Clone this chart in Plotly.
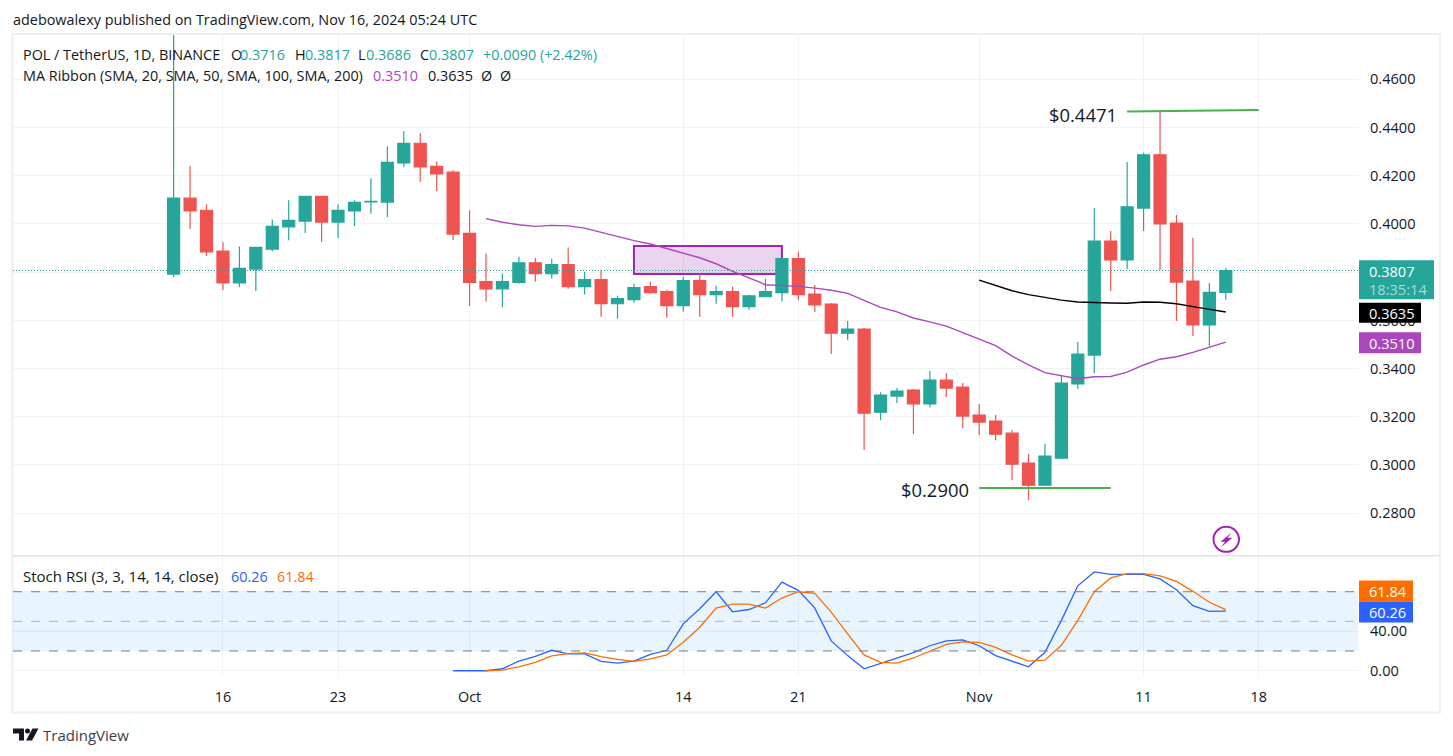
import pandas as pd
import plotly.graph_objects as go

WIDTH, HEIGHT = 1453, 756
# Rows of the page that the paper area spans
PAPER_ROWS = 753.5
FONT = "Open Sans"
TEXT_SIZE = 14.4
INK = "#131722"
GREEN = "#26a69a"
RED = "#ef5350"
PURPLE = "#ab47bc"
MARKUP = "#9c27b0"
LEVEL = "#4caf50"
GRID = "rgba(42,46,57,0.06)"
FRAME = "#eeeef5"

# Daily POL/USDT candles, 13 Sep to 16 Nov 2024
open_ = [
    .3792, .4107, .4057, .3887, .3755, .3813, .3896, .3988, .4012, .4115, .4008, .4054, .4092, .4091, .4253, .4335, .4239, .4215,
    .3961, .3761, .3731, .3758, .3839, .3794, .3831, .3740, .3769, .3669, .3686, .3740, .3719, .3661, .3765, .3707, .3719, .3657, .3698, .3715, .3856, .3709, .3668, .3547, .3564, .3219, .3286, .3311, .3253, .3352, .3323,
    .3207, .3182, .3132, .3008, .2916, .3028, .3336, .3456, .3929, .3851, .4066, .4287, .4004, .3763, .3581, .3716,
]
high = [
    .4900, .4239, .4082, .3924, .3907, .3905, .4019, .4098, .4116, .4116, .4082, .4098, .4190, .4322, .4385, .4376, .4260, .4223,
    .4057, .3877, .3794, .3864, .3860, .3856, .3902, .3802, .3810, .3702, .3752, .3761, .3727, .3781, .3794, .3744, .3740, .3706, .3773, .3857, .3885, .3747, .3672, .3597, .3568, .3302, .3319, .3315, .3390, .3381, .3340,
    .3253, .3207, .3145, .3045, .3087, .3369, .3510, .4066, .3971, .4257, .4295, .4471, .4037, .3942, .3755, .3817,
]
low = [
    .3780, .3979, .3867, .3726, .3738, .3722, .3887, .3932, .3963, .3925, .3942, .3992, .4042, .4029, .4235, .4174, .4137, .3934,
    .3660, .3678, .3654, .3752, .3761, .3773, .3731, .3707, .3615, .3607, .3673, .3711, .3611, .3636, .3615, .3669, .3615, .3644, .3698, .3678, .3684, .3635, .3460, .3518, .3062, .3186, .3257, .3128, .3240, .3282, .3153,
    .3124, .3103, .2937, .2854, .2916, .3028, .3315, .3381, .3722, .3813, .3971, .3809, .3597, .3535, .3493, .3686,
]
close = [
    .4107, .4054, .3884, .3755, .3816, .3903, .3990, .4015, .4115, .4008, .4057, .4090, .4094, .4256, .4335, .4237, .4208, .3958,
    .3758, .3731, .3761, .3839, .3794, .3831, .3740, .3769, .3669, .3690, .3736, .3715, .3661, .3765, .3707, .3719, .3657, .3702, .3719, .3856, .3707, .3664, .3547, .3564, .3215, .3290, .3307, .3253, .3352, .3319, .3203,
    .3178, .3128, .3003, .2916, .3037, .3340, .3460, .3929, .3851, .4071, .4287, .4000, .3759, .3581, .3716, .3807,
]

# Ribbon averages, newest value last
sma20 = [
    .4022, .4007, .3997, .3990, .3994, .3992, .3983, .3965, .3949, .3931, .3917, .3898, .3880, .3860, .3835, .3803, .3776, .3748, .3744, .3741,
    .3734, .3725, .3712, .3682, .3654, .3635, .3610, .3594, .3576, .3549,
    .3522, .3495, .3452, .3415, .3383, .3370, .3358, .3366, .3367, .3385, .3415, .3439, .3449, .3467, .3488, .3510,
]
sma50 = [.3767, .3744, .3723, .3707, .3694, .3684, .3676, .3673, .3672, .3671, .3676, .3675, .3669, .3657, .3646, .3635]

# Stochastic RSI, newest value last
stoch_k = [
    0, 0, 0, 2, 9.8, 14.6, 20.7, 17, 17, 9.5, 7.8, 9.8, 16.6, 20.7, 47.5, 62.7, 80, 59.7, 62, 68.8, 89.8, 81.4, 63.4, 30.2, 15.3, 2, 7.5, 13.2, 18.3, 25.3, 30.3, 31.3,
    25.3, 15.3, 9.7, 4, 18.7, 51, 86, 100, 97.6, 97.3, 97.6, 93, 82, 65.9, 60.1, 60.26,
]
stoch_d = [
    0, .7, 4, 8.5, 15, 17.3, 18, 14.2, 11.5, 9.5, 11.9, 16, 28.8, 44, 63.4, 67.5, 67.5, 63.4, 73.6, 80, 78.3, 59.3, 37.3, 16, 8.5, 7.8, 12.9, 20, 26.7, 29.3,
    28.7, 23.7, 16, 9.7, 10.7, 25.7, 51, 80, 94, 98.3, 98.3, 96, 90.5, 80.4, 69.3, 61.84,
]

price_ticks = [.28, .30, .32, .34, .36, .38, .40, .42, .44, .46]
# The 0.3800 label sits under the last-price tag, so only its gridline shows
price_tick_labels = ["0.2800", "0.3000", "0.3200", "0.3400", "0.3600", "", "0.4000", "0.4200", "0.4400", "0.4600"]
stoch_ticks = [0, 40, 80]
stoch_tick_labels = ["0.00", "40.00", ""]
date_ticks = ["2024-09-16", "2024-09-23", "2024-10-01", "2024-10-14", "2024-10-21", "2024-11-01", "2024-11-11", "2024-11-18"]
date_tick_labels = ["16", "23", "Oct", "14", "21", "Nov", "11", "18"]

# Drawn markups on the price pane
high_level = {"x": ["2024-11-10", "2024-11-18"], "y": [.4467, .4473], "label": "$0.4471"}
low_level = {"x": ["2024-11-01", "2024-11-09"], "y": [.2904, .2904], "label": "$0.2900"}
zone_x = ["2024-10-11", "2024-10-20"]
zone_y = [.3792, .3909]

dates = pd.date_range("2024-09-13", periods=len(close), freq="D")


def px(x):
    return x / WIDTH


def py(y):
    return 1 - y / PAPER_ROWS


def pane_y(top, bottom):
    return [py(bottom), py(top)]


def label(x, y, text, color=INK, size=TEXT_SIZE, xanchor="left"):
    return dict(
        x=px(x), y=py(y), xref="paper", yref="paper", text=text,
        showarrow=False, xanchor=xanchor, yanchor="middle", align="left",
        borderpad=0, borderwidth=0,
        font=dict(family=FONT, size=size, color=color),
    )


def tag(x1, y0, y1, color):
    return dict(
        type="rect", xref="paper", yref="paper", layer="above",
        x0=px(1359), x1=px(x1), y0=py(y1), y1=py(y0),
        fillcolor=color, line=dict(width=0),
    )


def hline(value, color, dash="dash"):
    return dict(
        type="line", xref="x2 domain", yref="y2", x0=0, x1=1, y0=value, y1=value,
        line=dict(color=color, width=1, dash=dash),
    )


def poly(points):
    return "M " + " L ".join(f"{px(x)},{py(y)}" for x, y in points) + " Z"


fig = go.Figure()
fig.add_trace(go.Candlestick(
    x=dates, open=open_, high=high, low=low, close=close,
    xaxis="x", yaxis="y", whiskerwidth=0,
    increasing=dict(line=dict(color=GREEN, width=1.2), fillcolor=GREEN),
    decreasing=dict(line=dict(color=RED, width=1.2), fillcolor=RED),
))
fig.add_trace(go.Scatter(
    x=dates[-len(sma20):], y=sma20, mode="lines", xaxis="x", yaxis="y",
    line=dict(color=PURPLE, width=1.4),
))
fig.add_trace(go.Scatter(
    x=dates[-len(sma50):], y=sma50, mode="lines", xaxis="x", yaxis="y",
    line=dict(color="#000000", width=1.4),
))
fig.add_trace(go.Scatter(
    x=dates[-len(stoch_k):], y=stoch_k, mode="lines", xaxis="x2", yaxis="y2",
    line=dict(color="#2962ff", width=1.3),
))
fig.add_trace(go.Scatter(
    x=dates[-len(stoch_d):], y=stoch_d, mode="lines", xaxis="x2", yaxis="y2",
    line=dict(color="#ff6d00", width=1.3),
))

shapes = [
    # Outer frame and pane divider
    dict(type="rect", xref="paper", yref="paper", x0=px(12.5), x1=px(1440), y0=py(712), y1=py(34),
         line=dict(color=FRAME, width=2), layer="below"),
    dict(type="line", xref="paper", yref="paper", x0=px(13), x1=px(1440), y0=py(555.5), y1=py(555.5),
         line=dict(color="#e0e3eb", width=1.5), layer="below"),
    # Last price
    dict(type="line", xref="x domain", yref="y", x0=0, x1=1, y0=close[-1], y1=close[-1],
         line=dict(color=GREEN, width=1.2, dash="1px,2px")),
    # Supply zone and the two labelled levels
    dict(type="rect", xref="x", yref="y", x0=zone_x[0], x1=zone_x[1], y0=zone_y[0], y1=zone_y[1],
         fillcolor="rgba(156,39,176,0.2)", line=dict(color=MARKUP, width=2), layer="below"),
    dict(type="line", xref="x", yref="y", x0=high_level["x"][0], x1=high_level["x"][1],
         y0=high_level["y"][0], y1=high_level["y"][1], line=dict(color=LEVEL, width=2)),
    dict(type="line", xref="x", yref="y", x0=low_level["x"][0], x1=low_level["x"][1],
         y0=low_level["y"][0], y1=low_level["y"][1], line=dict(color=LEVEL, width=2)),
    # Stoch RSI band
    dict(type="rect", xref="x2 domain", yref="y2", x0=0, x1=1, y0=20, y1=80,
         fillcolor="rgba(33,150,243,0.1)", line=dict(width=0), layer="below"),
    hline(80, "#787b86"),
    hline(50, "rgba(120,123,134,0.5)"),
    hline(20, "#787b86"),
    # Price-scale tags
    tag(1434, 260, 299, GREEN),
    tag(1421, 302.5, 322.5, "#000000"),
    tag(1421, 332, 353, PURPLE),
    tag(1413, 580, 601, "#ff6d00"),
    tag(1413, 601, 622, "#2962ff"),
    # Bolt badge
    dict(type="circle", xref="paper", yref="paper", x0=px(1213.5), x1=px(1239), y0=py(551.5), y1=py(526.5),
         line=dict(color=MARKUP, width=2)),
    dict(type="path", xref="paper", yref="paper", fillcolor=MARKUP, line=dict(width=0),
         path=poly([(1232, 532), (1220.5, 541.5), (1225, 541.5), (1221, 547), (1232.5, 537.5), (1227.5, 537.5)])),
    # Brand mark
    dict(type="path", xref="paper", yref="paper", fillcolor=INK, line=dict(width=0),
         path=poly([(13, 728), (24, 728), (24, 740), (19, 740), (19, 733), (13, 733)])),
    dict(type="circle", xref="paper", yref="paper", fillcolor=INK, line=dict(width=0),
         x0=px(25), x1=px(30), y0=py(733), y1=py(728)),
    dict(type="path", xref="paper", yref="paper", fillcolor=INK, line=dict(width=0),
         path=poly([(32.5, 728), (38.5, 728), (32, 740), (26, 740)])),
]

annotations = [
    label(13, 19, "adebowalexy published on TradingView.com, Nov 16, 2024 05:24 UTC"),
    # Symbol legend
    label(23, 54, "POL / TetherUS, 1D, BINANCE"),
    label(230.5, 54, "O"), label(240, 54, f"{open_[-1]:.4f}", GREEN),
    label(294.5, 54, "H"), label(304.5, 54, f"{high[-1]:.4f}", GREEN),
    label(358, 54, "L"), label(366, 54, f"{low[-1]:.4f}", GREEN),
    label(420, 54, "C"), label(429, 54, f"{close[-1]:.4f}", GREEN),
    label(483, 54, "+0.0090 (+2.42%)", GREEN),
    # Ribbon legend
    label(23, 75, "MA Ribbon (SMA, 20, SMA, 50, SMA, 100, SMA, 200)"),
    label(373.5, 75, f"{sma20[-1]:.4f}", PURPLE),
    label(428, 75, f"{sma50[-1]:.4f}", INK),
    label(481, 75, "Ø"), label(500, 75, "Ø"),
    # Stoch legend
    label(23, 576, "Stoch RSI (3, 3, 14, 14, close)", size=15),
    label(231, 576, f"{stoch_k[-1]:.2f}", "#2962ff"),
    label(277, 576, f"{stoch_d[-1]:.2f}", "#ff6d00"),
    # Level captions
    label(1049, 114, high_level["label"], size=18.4),
    label(901, 489, low_level["label"], size=18.4),
    # Tag texts
    label(1369, 270.5, f"{close[-1]:.4f}", "#ffffff", size=14.6),
    label(1369, 289, "18:35:14", "#a8dcd7", size=14.6),
    label(1369, 312.5, f"{sma50[-1]:.4f}", "#ffffff", size=14.6),
    label(1369, 342.5, f"{sma20[-1]:.4f}", "#ffffff", size=14.6),
    label(1369, 590.5, f"{stoch_d[-1]:.2f}", "#ffffff", size=14.6),
    label(1369, 611.5, f"{stoch_k[-1]:.2f}", "#ffffff", size=14.6),
    # Brand name
    label(43, 735, "TradingView", "#3a3e49", size=15),
]

x_range = ["2024-09-03 05:30", "2024-11-24 01:00"]
x_common = dict(
    type="date", range=x_range, tickmode="array", tickvals=date_ticks,
    showgrid=True, gridcolor=GRID, gridwidth=1, zeroline=False, showline=False,
    ticks="", rangeslider=dict(visible=False),
)
y_common = dict(
    side="right", showgrid=True, gridcolor=GRID, gridwidth=1, zeroline=False,
    showline=False, ticks="", ticklabelstandoff=11,
    tickfont=dict(family=FONT, size=14.6, color=INK),
)

fig.update_layout(
    width=WIDTH, height=HEIGHT, autosize=False,
    margin=dict(l=0, r=0, t=0, b=0), paper_bgcolor="#ffffff", plot_bgcolor="#ffffff",
    showlegend=False, hovermode=False, boxgap=0.27, boxgroupgap=0,
    font=dict(family=FONT, size=TEXT_SIZE, color=INK),
    xaxis=dict(domain=[px(13), px(1358)], anchor="y", showticklabels=False, ticktext=date_tick_labels, **x_common),
    xaxis2=dict(domain=[px(13), px(1358)], anchor="y2", showticklabels=True, ticktext=date_tick_labels,
                ticklabelstandoff=9, tickfont=dict(family=FONT, size=TEXT_SIZE, color=INK), **x_common),
    yaxis=dict(domain=pane_y(35, 555), anchor="x", range=[.2625, .4784],
               tickmode="array", tickvals=price_ticks, ticktext=price_tick_labels, **y_common),
    yaxis2=dict(domain=pane_y(556, 677), anchor="x2", range=[-6.8, 115.8],
                tickmode="array", tickvals=stoch_ticks, ticktext=stoch_tick_labels, **y_common),
    shapes=shapes, annotations=annotations,
)

fig.write_html("out.html", config=dict(displayModeBar=False))
